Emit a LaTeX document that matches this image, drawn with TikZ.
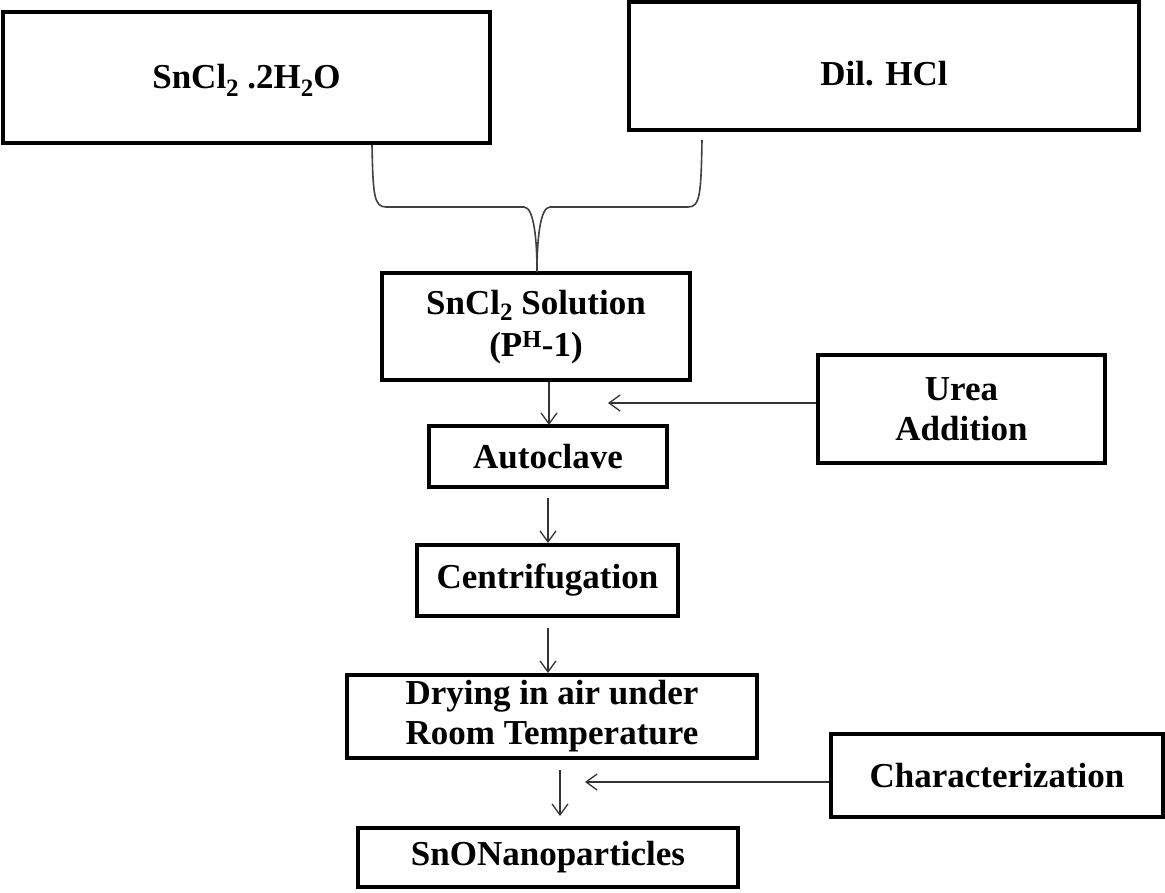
\documentclass[tikz,border=0pt]{standalone}
\usepackage{fontspec}
\setmainfont{Liberation Serif}
\usetikzlibrary{arrows.meta}
\newcommand{\lowr}[2]{\raisebox{-#1}[\height][\depth]{#2}}
\newcommand{\sbs}[1]{\raisebox{-8pt}{\fontsize{25}{25}\selectfont #1}}
\newcommand{\sbsb}[1]{\raisebox{-6pt}[0pt][0pt]{\fontsize{25}{25}\selectfont #1}}
\tikzset{
  box/.style={draw=black, line width=3.6pt, inner sep=0pt, align=center,
    font=\fontsize{35}{40}\selectfont\bfseries},
  flow/.style={draw=black!80, line width=1.3pt,
    -{Straight Barb[length=11pt,width=16pt,line width=1.3pt]}},
  brace/.style={draw=black!75, line width=1.6pt}
}
\begin{document}
\begin{tikzpicture}[x=1pt,y=-1pt]
\useasboundingbox (0,0) rectangle (1165,892);
\node[box, minimum width=487pt, minimum height=131pt] (sn) at (246.5,77.5) {\lowr{3pt}{SnCl\sbs{2} .2H\sbs{2}O}};
\node[box, minimum width=510pt, minimum height=128pt] (hcl) at (884,66) {\lowr{8pt}{Dil. HCl}};
\node[box, minimum width=308pt, minimum height=107pt] (sol) at (536,326.5) {\lowr{1pt}{SnCl\sbsb{2} Solution}\\[2pt]\lowr{1pt}{(P\textsuperscript{H}-1)}};
\node[box, minimum width=238pt, minimum height=61pt] (auto) at (548,456.5) {Autoclave};
\node[box, minimum width=287pt, minimum height=108pt] (urea) at (961.5,409) {Urea\\Addition};
\node[box, minimum width=261pt, minimum height=71pt] (cent) at (547.5,580.5) {Centrifugation};
\node[box, minimum width=410pt, minimum height=83pt] (dry) at (552,716.5) {Drying in air under\\Room Temperature};
\node[box, minimum width=332pt, minimum height=83pt] (char) at (997,775.5) {Characterization};
\node[box, minimum width=380pt, minimum height=59pt] (sno) at (548,857.5) {SnONanoparticles};
% brace joining the two reagents
\coordinate (bl) at (372,145);
\coordinate (br) at (702,140);
\coordinate (bm) at (537,272);
\draw[brace] (bl) .. controls (373,195) and (374,207) .. (386,207)
  -- (524,207) .. controls (534,207) and (537,240) .. (bm);
\draw[brace] (br) .. controls (701,195) and (700,207) .. (688,207)
  -- (550,207) .. controls (540,207) and (537,240) .. (bm);
% flow arrows
\draw[flow] (sol.south -| 549,0) -- (549,425);
\draw[flow] (548,498) -- (548,543);
\draw[flow] (548,628) -- (548,673);
\draw[flow] (560,770) -- (560,816);
\coordinate (ut) at (608,403);
\draw[flow] (urea.west |- ut) -- (ut);
\coordinate (ct) at (585,782);
\draw[flow] (char.west |- ct) -- (ct);
\end{tikzpicture}
\end{document}
